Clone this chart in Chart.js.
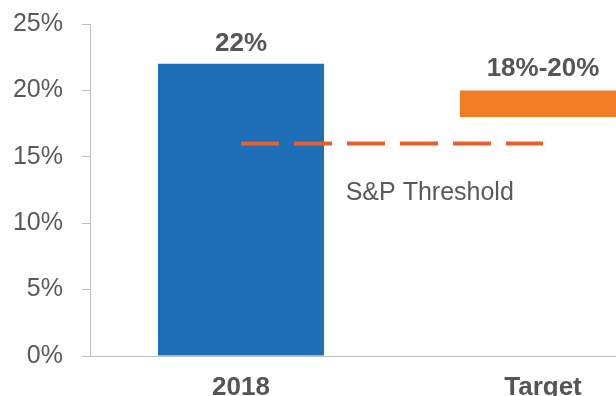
<!DOCTYPE html>
<html>
<head>
<meta charset="utf-8">
<script src="https://cdn.jsdelivr.net/npm/chart.js@4/dist/chart.umd.min.js"></script>
<style>
  html, body { margin: 0; padding: 0; background: #fff; }
  #wrap { width: 616px; height: 396px; overflow: hidden; position: relative; }
  canvas { display: block; }
</style>
</head>
<body>
<div id="wrap"><canvas id="chart" width="694" height="396"></canvas></div>
<script>
// ---- data ----
const categories = ['2018', 'Target'];
const barValues = [22, [18, 20]];          // 2018 actual, target range
const barLabels = ['22%', '18%-20%'];
const thresholdValues = [16, 16];
const thresholdLabel = 'S&P Threshold';
const yTicks = [0, 5, 10, 15, 20, 25];

const GRAY = '#595959';
const AXIS = '#bfbfbf';

// draws the value labels and the threshold caption
const labelPlugin = {
  id: 'labels',
  afterDatasetsDraw(chart) {
    const ctx = chart.ctx;
    const meta = chart.getDatasetMeta(0);
    ctx.save();
    ctx.textAlign = 'center';
    ctx.textBaseline = 'middle';
    ctx.fillStyle = '#555555';
    ctx.font = 'bold 26px "Liberation Sans", Arial, sans-serif';
    meta.data.forEach((bar, i) => {
      const offset = i === 0 ? 20 : 22;
      ctx.fillText(barLabels[i], bar.x, bar.y - offset);
    });
    const xs = chart.scales.x, ys = chart.scales.y;
    ctx.font = '25px "Liberation Sans", Arial, sans-serif';
    ctx.fillStyle = GRAY;
    ctx.fillText(thresholdLabel, xs.getPixelForValue(0.625), ys.getPixelForValue(12.3));
    ctx.restore();
  }
};

new Chart(document.getElementById('chart'), {
  type: 'bar',
  data: {
    labels: categories,
    datasets: [
      {
        data: barValues,
        backgroundColor: ['#1f6fb6', '#f07e26'],
        borderWidth: 0,
        categoryPercentage: 1,
        barPercentage: 0.55,
        order: 2
      },
      {
        type: 'line',
        data: thresholdValues,
        borderColor: '#e5602d',
        borderWidth: 4,
        borderDash: [38, 15],
        pointRadius: 0,
        fill: false,
        order: 1
      }
    ]
  },
  options: {
    responsive: false,
    animation: false,
    layout: { padding: { top: 24, left: 0, right: 0, bottom: 0 } },
    plugins: { legend: { display: false }, tooltip: { enabled: false } },
    scales: {
      y: {
        min: 0,
        max: 25,
        afterBuildTicks: (s) => { s.ticks = yTicks.map(v => ({ value: v })); },
        afterFit: (s) => { s.width = 90; s.paddingTop = 0; s.paddingBottom = 0; },
        grid: { drawOnChartArea: false, drawTicks: true, tickLength: 8, color: AXIS },
        border: { display: true, color: AXIS, width: 1 },
        ticks: {
          padding: 19,
          color: GRAY,
          font: { family: '"Liberation Sans", Arial, sans-serif', size: 25 },
          callback: (v) => v + '%'
        }
      },
      x: {
        afterFit: (s) => { s.height = 40; s.paddingLeft = 0; s.paddingRight = 0; },
        grid: { display: false, drawTicks: false },
        border: { display: true, color: AXIS, width: 1 },
        ticks: {
          padding: 16,
          color: '#555555',
          font: { family: '"Liberation Sans", Arial, sans-serif', size: 26, weight: 'bold' }
        }
      }
    }
  },
  plugins: [labelPlugin]
});
</script>
</body>
</html>
